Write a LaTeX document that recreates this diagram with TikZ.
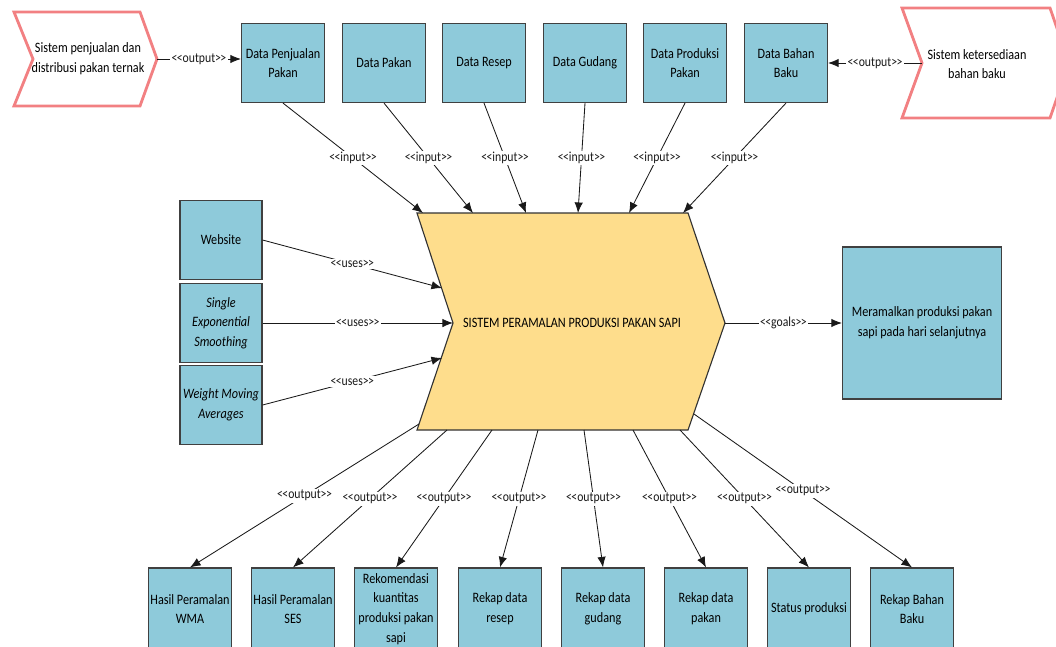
\documentclass[tikz,border=0pt]{standalone}
\usepackage{fontspec}
\setmainfont{Carlito}[FakeStretch=0.85]
\usetikzlibrary{arrows.meta}

\definecolor{boxblue}{RGB}{142,202,218}
\definecolor{sysyellow}{RGB}{254,221,140}
\definecolor{extred}{RGB}{242,128,130}

\newcommand{\ster}[1]{\textless\kern-0.4pt\textless\kern0pt #1\kern0pt\textgreater\kern-0.4pt\textgreater}

\begin{document}
\begin{tikzpicture}[x=0.025cm, y=-0.025cm,
databox/.style={rectangle, draw=black!75, fill=boxblue, line width=0.8pt, minimum width=2.075cm, minimum height=1.975cm, align=center, inner sep=1pt, font=\fontsize{10.2}{14}\selectfont},
lowbox/.style={databox, minimum height=2.05cm},
extshape/.style={draw=extred, fill=white, line width=2pt, line join=miter},
sysshape/.style={draw=black!80, fill=sysyellow, line width=0.8pt},
plaintext/.style={align=center, inner sep=0pt, font=\fontsize{10.2}{14}\selectfont},
lbl/.style={fill=white, inner sep=1pt, font=\fontsize{9.8}{10}\selectfont},
conn/.style={-{Latex[length=7.5pt,width=6pt]}, line width=0.6pt, black!90},
]
\useasboundingbox (0,0) rectangle (1056,646);

%Shapes
\draw[extshape] (14,12) -- (140,12) -- (157,59) -- (140,106) -- (14,106) -- (33,59) -- cycle;
\draw[extshape] (902,8) -- (1050,8) -- (1069,63) -- (1050,118) -- (902,118) -- (922,63) -- cycle;
\draw[sysshape] (417,213) -- (688,213) -- (725,323) -- (688,430) -- (417,430) -- (453,323) -- cycle;

%Coordinates
\coordinate (jualout) at (157,59);
\coordinate (bahanout) at (922,63);
\coordinate (sysout) at (725,323);
\coordinate (in1) at (423,213);
\coordinate (in2) at (473,213);
\coordinate (in3) at (526,213);
\coordinate (in4) at (578,213);
\coordinate (in5) at (629,213);
\coordinate (in6) at (683,213);
\coordinate (use1) at (442,288);
\coordinate (use2) at (453,323);
\coordinate (use3) at (442,358);
\coordinate (out1) at (419,424);
\coordinate (out2) at (447,430);
\coordinate (out3) at (492,430);
\coordinate (out4) at (538,430);
\coordinate (out5) at (584,430);
\coordinate (out6) at (633,430);
\coordinate (out7) at (680,430);
\coordinate (out8) at (694,414);

%Nodes
\node[plaintext] (jual)    at (88,59)   {Sistem penjualan dan\\distribusi pakan ternak};
\node[plaintext] (sedia)   at (977,64)  {Sistem ketersediaan\\bahan baku};
\node[plaintext] (sys)     at (572,323) {SISTEM PERAMALAN PRODUKSI PAKAN SAPI};

\node[databox] (dpenj)   at (283,63) {Data Penjualan\\Pakan};
\node[databox] (dpakan)  at (384,63) {Data Pakan};
\node[databox] (dresep)  at (484,63) {Data Resep};
\node[databox] (dgudang) at (585,63) {Data Gudang};
\node[databox] (dprod)   at (685,63) {Data Produksi\\Pakan};
\node[databox] (dbahan)  at (786,63) {Data Bahan\\Baku};

\node[databox, minimum width=2.05cm] (web) at (221,240) {Website};
\node[databox, minimum width=2.05cm] (ses) at (221,323) {\itshape Single\\\itshape Exponential\\\itshape Smoothing};
\node[databox, minimum width=2.05cm] (wma) at (221,405) {\itshape Weight Moving\\\itshape Averages};

\node[databox, minimum width=3.975cm, minimum height=3.8cm] (goal) at (922,323) {Meramalkan produksi pakan\\sapi pada hari selanjutnya};

\node[lowbox] (hwma)    at (190,609) {Hasil Peramalan\\WMA};
\node[lowbox] (hses)    at (293,609) {Hasil Peramalan\\SES};
\node[lowbox] (rekom)   at (396,609) {Rekomendasi\\kuantitas\\produksi pakan\\sapi};
\node[lowbox] (rresep)  at (500,609) {Rekap data\\resep};
\node[lowbox] (rgudang) at (603,609) {Rekap data\\gudang};
\node[lowbox] (rpakan)  at (706,609) {Rekap data\\pakan};
\node[lowbox] (status)  at (809,609) {Status produksi};
\node[lowbox] (rbahan)  at (912,609) {Rekap Bahan\\Baku};

%Lines
\draw[conn] (jualout) -- node[lbl] {\ster{output}} (jualout -| dpenj.west);
\draw[conn] (bahanout) -- node[lbl] {\ster{output}} (bahanout -| dbahan.east);

\draw[conn] (dpenj.south)   -- node[lbl] {\ster{input}} (in1);
\draw[conn] (dpakan.south)  -- node[lbl] {\ster{input}} (in2);
\draw[conn] (dresep.south)  -- node[lbl] {\ster{input}} (in3);
\draw[conn] (dgudang.south) -- node[lbl] {\ster{input}} (in4);
\draw[conn] (dprod.south)   -- node[lbl] {\ster{input}} (in5);
\draw[conn] (dbahan.south)  -- node[lbl] {\ster{input}} (in6);

\draw[conn] (web.east) -- node[lbl] {\ster{uses}} (use1);
\draw[conn] (ses.east) -- node[lbl] {\ster{uses}} (use2);
\draw[conn] (wma.east) -- node[lbl] {\ster{uses}} (use3);

\draw[conn] (sysout) -- node[lbl] {\ster{goals}} (goal.west);

\draw[conn] (out1) -- node[lbl] {\ster{output}} (hwma.north);
\draw[conn] (out2) -- node[lbl] {\ster{output}} (hses.north);
\draw[conn] (out3) -- node[lbl] {\ster{output}} (rekom.north);
\draw[conn] (out4) -- node[lbl] {\ster{output}} (rresep.north);
\draw[conn] (out5) -- node[lbl] {\ster{output}} (rgudang.north);
\draw[conn] (out6) -- node[lbl] {\ster{output}} (rpakan.north);
\draw[conn] (out7) -- node[lbl] {\ster{output}} (status.north);
\draw[conn] (out8) -- node[lbl] {\ster{output}} (rbahan.north);
\end{tikzpicture}
\end{document}
